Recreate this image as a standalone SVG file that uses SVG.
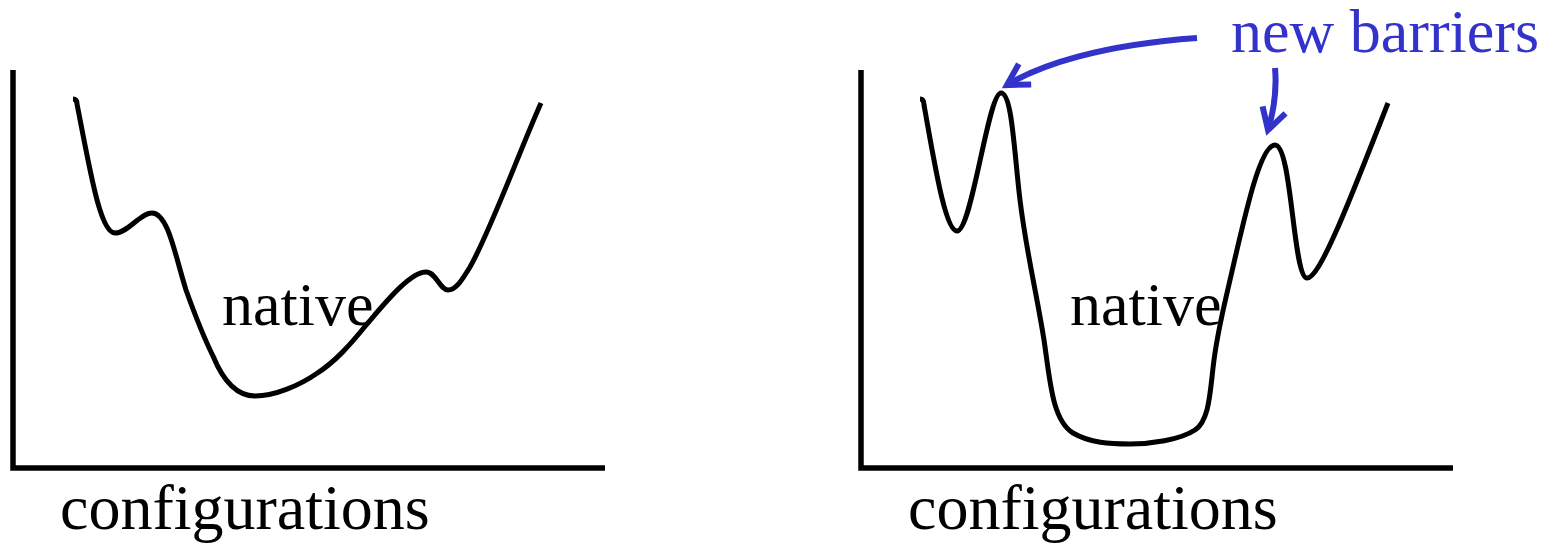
<svg xmlns="http://www.w3.org/2000/svg" width="1561" height="545" viewBox="0 0 1561 545">
<style>
.axis{stroke:#000;stroke-width:5.5;fill:none}
.curve{stroke:#000;stroke-width:5;fill:none;stroke-linejoin:round}
.lbl{font-family:"Liberation Serif","Times New Roman",serif;fill:#000}
.blue{font-family:"Liberation Serif","Times New Roman",serif;fill:#3333cc}
.arr{stroke:#3333cc;stroke-width:6;fill:none;marker-end:url(#ah)}
</style>
<defs>
<marker id="ah" markerUnits="userSpaceOnUse" viewBox="-30 -20 40 40" refX="0" refY="0" markerWidth="40" markerHeight="40" orient="auto" overflow="visible">
<path d="M-21,-12 L0,0 L-21,12" stroke="#3333cc" stroke-width="6" fill="none" stroke-linejoin="miter"/>
</marker>
</defs>
<rect width="1561" height="545" fill="#fff"/>
<g id="left-panel">
<path class="axis" d="M13,70 V468 H605"/>
<path class="curve" d="M73,99 Q77,99 77,104 C90,170 100,233 115,233 C128,233 140,213 152,213 C168,213 175,255 186,290 C195,315 205,340 213,356 C222,378 235,396 255,396 C275,396 300,385 316,374 C335,362 350,345 367,324 C385,303 410,272 426,272 C436,272 440,290 448,290 C456,290 462,280 470,267 C490,232 520,150 541,103"/>
<text class="lbl" x="222" y="325" font-size="62">native</text>
<text class="lbl" x="60" y="529" font-size="64">configurations</text>
</g>
<g id="right-panel">
<path class="axis" d="M861,70 V468 H1453"/>
<path class="curve" d="M920,99 Q924,99 924,105 C934,160 945,231 957,231 C972,231 988,93 1001,93 C1012,93 1014,150 1020,200 C1026,250 1036,290 1044,340 C1050,380 1052,420 1073,433 C1090,443 1110,444 1130,444 C1150,444 1180,440 1195,430 C1210,420 1210,390 1214,360 C1218,330 1222,315 1230,280 C1245,215 1260,145 1275,145 C1292,145 1293,278 1307,278 C1320,278 1350,200 1388,103"/>
<text class="lbl" x="1070" y="325" font-size="62">native</text>
<text class="lbl" x="908" y="529" font-size="64">configurations</text>
</g>
<g id="label-new-barriers">
<text class="blue" x="1231" y="52" font-size="62">new barriers</text>
</g>
<g id="connectors">
<path class="arr" d="M1197,38 C1100,45 1040,65 1007,85"/>
<path class="arr" d="M1275,68 C1277,90 1274,110 1268,130"/>
</g>
</svg>
